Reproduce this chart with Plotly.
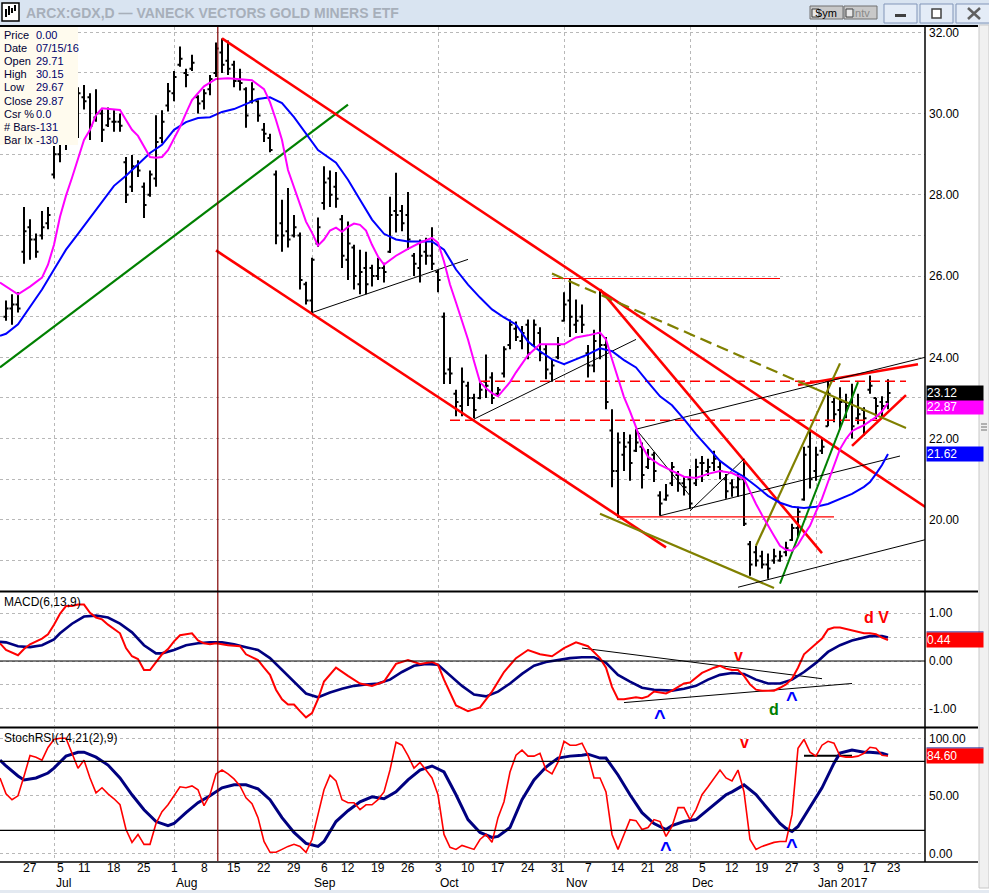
import pandas as pd
import plotly.graph_objects as go

W, H = 989, 893
FONT = "Liberation Sans, Arial, sans-serif"

# ---------------- calendar ----------------
holidays = ["2016-07-04", "2016-09-05", "2016-11-24", "2016-12-26", "2017-01-02", "2017-01-16"]
cal = [d.strftime("%Y-%m-%d") for d in pd.bdate_range("2016-06-20", "2017-01-31")]
cal = [d for d in cal if d not in holidays]
pos = {d: i - 1 for i, d in enumerate(cal)}
dates = [d for d in cal if "2016-06-21" <= d <= "2017-01-20"]

# ---------------- price bars ----------------
open_ = [25.0, 25.2, 25.3, 26.6, 27.2, 26.9, 27.0, 27.3, 28.5, 29.0, 29.4, 30.1, 30.0, 30.4, 30.4, 29.9, 30.0, 29.71,
         29.8, 29.8, 28.8, 28.2, 28.7, 28.2, 28.0, 28.4, 29.4, 30.2, 30.5, 31.2, 31.0, 31.1, 30.4, 30.3, 30.6, 31.0,
         31.5, 31.3, 31.2, 30.8, 30.6, 30.3, 30.3, 29.6, 29.4, 28.5, 27.3, 27.1, 27.0, 27.0, 25.8, 25.4, 26.8, 27.8,
         28.4, 28.2, 27.4, 26.4, 26.7, 25.8, 26.2, 26.2, 26.0, 26.2, 26.6, 27.6, 27.6, 27.5, 26.5, 26.2, 26.6, 26.5,
         26.1, 25.0, 23.7, 23.1, 22.8, 23.3, 23.0, 23.0, 23.4, 23.5, 23.1, 23.6, 24.3, 24.7, 24.4, 24.8, 24.3, 24.6,
         24.2, 23.6, 24.0, 24.9, 25.4, 24.8, 25.0, 24.1, 23.8, 24.6, 24.3, 22.2, 21.2, 21.6, 21.9, 21.7, 21.8, 21.3,
         21.6, 20.6, 20.5, 20.9, 21.1, 20.9, 21.0, 20.9, 21.4, 21.2, 21.4, 21.3, 21.0, 20.9, 20.8, 21.0, 19.4, 19.2,
         19.1, 18.9, 19.0, 19.0, 19.2, 19.5, 19.8, 20.5, 21.8, 21.2, 21.7, 22.3, 22.9, 22.7, 22.9, 22.9, 22.5, 22.7,
         23.2, 23.0, 22.9, 22.9]
high = [25.4, 25.55, 25.6, 27.7, 27.4, 27.05, 27.6, 27.7, 29.2, 29.5, 30.3, 30.5, 30.65, 30.7, 30.5, 30.6, 30.1, 30.15,
        30.08, 30.0, 28.93, 28.98, 28.85, 28.3, 28.6, 29.96, 30.08, 30.75, 31.05, 31.65, 31.1, 31.45, 30.45, 30.6,
        30.95, 31.75, 31.85, 31.8, 31.3, 31.1, 30.65, 30.77, 30.33, 29.77, 29.5, 28.6, 27.88, 28.17, 27.5, 27.07,
        25.86, 26.45, 27.44, 28.7, 28.6, 28.56, 27.5, 27.34, 26.77, 26.65, 26.6, 26.28, 26.45, 26.33, 27.95, 28.54,
        27.75, 28.07, 26.57, 26.9, 26.94, 27.2, 26.15, 25.1, 24.0, 23.2, 23.75, 23.4, 23.1, 23.4, 24.07, 23.63, 23.27,
        24.27, 24.93, 24.88, 24.77, 24.93, 24.93, 24.74, 24.3, 23.95, 24.5, 25.6, 25.95, 25.42, 25.3, 24.3, 24.68,
        25.67, 24.5, 22.72, 22.15, 22.16, 22.1, 22.23, 21.9, 21.74, 21.67, 20.7, 20.88, 21.42, 21.2, 21.08, 21.25,
        21.5, 21.57, 21.5, 21.7, 21.45, 21.13, 21.0, 21.13, 21.5, 19.48, 19.36, 19.24, 19.17, 19.29, 19.24, 19.46,
        19.9, 20.32, 21.8, 22.23, 21.8, 22.0, 23.4, 23.0, 23.26, 23.1, 23.35, 23.1, 22.77, 23.55, 23.0, 23.04, 23.46]
low = [24.9, 24.8, 25.1, 26.3, 26.4, 26.45, 26.9, 27.15, 28.4, 28.8, 29.1, 29.8, 29.4, 30.1, 29.35, 29.8, 29.3, 29.67,
       29.55, 29.55, 27.8, 28.07, 28.44, 27.43, 27.95, 28.2, 29.27, 30.05, 30.3, 31.15, 30.65, 31.05, 30.0, 30.1,
       30.45, 30.9, 31.0, 30.95, 30.65, 30.57, 29.65, 30.25, 29.8, 29.3, 29.05, 26.78, 26.6, 26.7, 26.95, 25.67,
       25.3, 25.1, 26.72, 27.63, 27.7, 27.68, 26.2, 25.9, 25.67, 25.55, 25.55, 25.74, 25.9, 25.84, 26.57, 27.07,
       27.1, 26.65, 26.0, 25.84, 26.28, 26.15, 25.6, 23.34, 23.34, 22.55, 22.55, 22.8, 22.5, 22.97, 23.0, 22.85,
       23.05, 23.5, 24.2, 24.4, 24.2, 23.95, 24.27, 23.9, 23.46, 23.4, 23.95, 24.88, 24.5, 24.6, 24.6, 23.5, 23.63,
       23.95, 22.72, 20.8, 20.05, 21.2, 20.96, 21.67, 20.77, 21.25, 20.93, 20.1, 20.47, 20.83, 20.69, 20.6, 20.27,
       20.83, 20.93, 21.08, 21.2, 21.0, 20.52, 20.57, 20.57, 19.85, 18.62, 18.85, 18.8, 18.55, 18.92, 18.97, 19.1,
       19.48, 19.58, 20.47, 20.77, 20.96, 21.62, 22.3, 22.4, 22.23, 22.5, 22.0, 22.35, 22.07, 23.1, 22.48, 22.48, 22.72]
close = [25.2, 25.3, 25.2, 27.1, 26.9, 26.6, 27.2, 27.5, 29.0, 29.3, 30.0, 30.1, 30.5, 30.3, 29.7, 30.0, 29.6, 29.87,
         29.8, 29.7, 28.0, 28.7, 28.6, 27.75, 28.5, 29.3, 29.8, 30.55, 30.9, 31.35, 30.95, 31.25, 30.25, 30.5, 30.85,
         31.6, 31.2, 31.1, 30.8, 30.75, 29.95, 30.6, 29.95, 29.5, 29.1, 27.0, 27.0, 26.9, 27.2, 25.9, 25.4, 26.4,
         27.2, 28.3, 28.0, 27.9, 26.5, 26.8, 26.0, 26.1, 25.8, 26.0, 26.2, 26.1, 27.5, 27.5, 27.3, 26.9, 26.3, 26.5,
         26.5, 26.3, 25.9, 23.6, 23.6, 22.9, 23.4, 23.0, 22.7, 23.2, 23.3, 23.0, 23.2, 24.2, 24.8, 24.5, 24.6, 24.1,
         24.8, 24.1, 23.7, 23.8, 24.3, 25.3, 25.0, 24.9, 24.8, 23.8, 24.4, 24.3, 22.9, 21.2, 21.9, 21.8, 21.4, 21.9,
         21.1, 21.5, 21.2, 20.4, 20.6, 21.3, 20.9, 20.8, 20.4, 21.3, 21.4, 21.3, 21.5, 21.2, 20.7, 20.8, 21.0, 19.9,
         18.9, 19.0, 18.9, 18.8, 19.1, 19.1, 19.3, 19.8, 20.2, 21.6, 21.0, 21.6, 21.8, 23.1, 22.6, 22.9, 22.8, 22.3,
         22.6, 22.5, 23.3, 22.8, 22.8, 23.12]

# ---------------- moving averages ----------------
ma_fast_dates = ["2016-06-20", "2016-06-21", "2016-06-23", "2016-06-27", "2016-06-29", "2016-06-30", "2016-07-01",
                 "2016-07-05",
                 "2016-07-06", "2016-07-07", "2016-07-08", "2016-07-11", "2016-07-12", "2016-07-13", "2016-07-14",
                 "2016-07-18", "2016-07-19", "2016-07-20", "2016-07-21", "2016-07-22", "2016-07-25", "2016-07-26",
                 "2016-07-27", "2016-07-28", "2016-07-29", "2016-08-01", "2016-08-02", "2016-08-03", "2016-08-04",
                 "2016-08-08", "2016-08-10", "2016-08-12", "2016-08-16", "2016-08-18", "2016-08-22", "2016-08-23",
                 "2016-08-24", "2016-08-25", "2016-08-26", "2016-08-29", "2016-08-30", "2016-08-31", "2016-09-01",
                 "2016-09-02", "2016-09-06", "2016-09-07", "2016-09-08", "2016-09-09", "2016-09-12", "2016-09-13",
                 "2016-09-14", "2016-09-15", "2016-09-16", "2016-09-19", "2016-09-20", "2016-09-21", "2016-09-22",
                 "2016-09-26", "2016-09-28", "2016-09-30", "2016-10-03", "2016-10-04", "2016-10-05", "2016-10-06",
                 "2016-10-07", "2016-10-10", "2016-10-11", "2016-10-12", "2016-10-13", "2016-10-14", "2016-10-17",
                 "2016-10-18", "2016-10-19", "2016-10-20", "2016-10-21", "2016-10-24", "2016-10-26", "2016-10-28",
                 "2016-11-01", "2016-11-03", "2016-11-07", "2016-11-09", "2016-11-10", "2016-11-11", "2016-11-14",
                 "2016-11-15", "2016-11-16", "2016-11-17", "2016-11-18", "2016-11-21", "2016-11-23", "2016-11-28",
                 "2016-11-30", "2016-12-02", "2016-12-06", "2016-12-08", "2016-12-12", "2016-12-14", "2016-12-15",
                 "2016-12-16", "2016-12-19", "2016-12-20", "2016-12-21", "2016-12-22", "2016-12-23", "2016-12-27",
                 "2016-12-28", "2016-12-29", "2016-12-30", "2017-01-03", "2017-01-04", "2017-01-05", "2017-01-06",
                 "2017-01-09", "2017-01-10", "2017-01-11", "2017-01-12", "2017-01-13", "2017-01-17", "2017-01-18",
                 "2017-01-19", "2017-01-20"]
ma_fast = [25.84, 25.74, 25.55, 25.74, 25.96, 26.28, 26.77, 27.46, 27.98, 28.42, 28.91, 29.35, 29.6, 29.96, 30.13,
           30.11,
           30.09, 29.84, 29.6, 29.45, 29.18, 28.93, 28.91, 28.93, 29.1, 29.37, 29.67, 30.01, 30.33, 30.67, 30.85,
           30.87, 30.85, 30.82, 30.6, 30.28, 29.84, 29.35, 28.61, 28.17, 27.75, 27.34, 27.07, 26.75, 26.9, 27.12,
           27.19, 27.09, 27.21, 27.29, 27.26, 27.12, 26.77, 26.48, 26.28, 26.38, 26.5, 26.67, 26.82, 26.94, 26.82,
           26.36, 25.79, 25.35, 24.88, 24.44, 23.9, 23.39, 23.24, 23.12, 23.04, 23.21, 23.39, 23.63, 23.85, 24.05,
           24.32, 24.32, 24.32, 24.49, 24.54, 24.61, 24.44, 23.95, 23.46, 23.02, 22.67, 22.28, 21.82, 21.55, 21.35,
           21.2, 21.06, 21.03, 21.13, 21.2, 21.15, 21.01, 20.69, 20.39, 20.12, 19.85, 19.61, 19.36, 19.26, 19.24,
           19.39, 19.63, 19.85, 20.2, 20.52, 20.93, 21.35, 21.74, 21.99, 22.18, 22.26, 22.33, 22.43, 22.53, 22.67,
           22.87]

ma_slow_dates = ["2016-06-20", "2016-06-21", "2016-06-23", "2016-06-27", "2016-06-29", "2016-07-01", "2016-07-06",
                 "2016-07-08",
                 "2016-07-12", "2016-07-14", "2016-07-18", "2016-07-20", "2016-07-22", "2016-07-26", "2016-07-28",
                 "2016-08-01", "2016-08-03", "2016-08-05", "2016-08-09", "2016-08-11", "2016-08-15", "2016-08-17",
                 "2016-08-19", "2016-08-23", "2016-08-25", "2016-08-29", "2016-08-31", "2016-09-02", "2016-09-08",
                 "2016-09-12", "2016-09-14", "2016-09-16", "2016-09-20", "2016-09-22", "2016-09-26", "2016-09-28",
                 "2016-09-30", "2016-10-04", "2016-10-06", "2016-10-10", "2016-10-12", "2016-10-14", "2016-10-18",
                 "2016-10-20", "2016-10-24", "2016-10-26", "2016-10-28", "2016-11-01", "2016-11-03", "2016-11-07",
                 "2016-11-09", "2016-11-11", "2016-11-15", "2016-11-17", "2016-11-21", "2016-11-23", "2016-11-28",
                 "2016-11-30", "2016-12-02", "2016-12-06", "2016-12-08", "2016-12-12", "2016-12-14", "2016-12-16",
                 "2016-12-20", "2016-12-22", "2016-12-27", "2016-12-29", "2017-01-03", "2017-01-05", "2017-01-09",
                 "2017-01-11", "2017-01-13", "2017-01-17", "2017-01-18", "2017-01-19", "2017-01-20"]
ma_slow = [24.53, 24.58, 24.81, 25.25, 25.67, 26.16, 26.65, 27.04, 27.44, 27.83, 28.22, 28.47, 28.74, 29.03, 29.23,
           29.6,
           29.79, 29.89, 29.91, 30.04, 30.11, 30.23, 30.36, 30.4, 30.26, 29.91, 29.52, 29.1, 28.79, 28.37, 27.88,
           27.39, 27.04, 26.9, 26.85, 26.85, 26.85, 26.65, 26.16, 25.79, 25.47, 25.18, 24.98, 24.81, 24.39, 24.15,
           23.95, 23.83, 23.95, 24.07, 24.22, 24.15, 23.93, 23.75, 23.39, 23.04, 22.82, 22.48, 22.11, 21.79, 21.45,
           21.23, 21.06, 20.83, 20.59, 20.42, 20.32, 20.29, 20.32, 20.39, 20.52, 20.64, 20.81, 20.93, 21.13, 21.35,
           21.62]

# ---------------- MACD(6,13,9) ----------------
macd_dates = ["2016-06-20", "2016-06-21", "2016-06-23", "2016-06-24", "2016-06-27", "2016-06-29", "2016-06-30",
              "2016-07-01",
              "2016-07-05", "2016-07-06", "2016-07-07", "2016-07-08", "2016-07-11", "2016-07-12", "2016-07-13",
              "2016-07-14", "2016-07-15", "2016-07-18", "2016-07-19", "2016-07-20", "2016-07-21", "2016-07-22",
              "2016-07-25", "2016-07-26", "2016-07-27", "2016-07-28", "2016-07-29", "2016-08-01", "2016-08-02",
              "2016-08-04", "2016-08-05", "2016-08-08", "2016-08-09", "2016-08-10", "2016-08-12", "2016-08-16",
              "2016-08-17", "2016-08-19", "2016-08-22", "2016-08-23", "2016-08-24", "2016-08-25", "2016-08-26",
              "2016-08-29", "2016-08-30", "2016-08-31", "2016-09-01", "2016-09-02", "2016-09-06", "2016-09-07",
              "2016-09-08", "2016-09-12", "2016-09-14", "2016-09-16", "2016-09-20", "2016-09-22", "2016-09-26",
              "2016-09-28", "2016-09-30", "2016-10-03", "2016-10-04", "2016-10-06", "2016-10-10", "2016-10-12",
              "2016-10-14", "2016-10-18", "2016-10-20", "2016-10-24", "2016-10-26", "2016-10-28", "2016-11-01",
              "2016-11-03", "2016-11-07", "2016-11-09", "2016-11-10", "2016-11-11", "2016-11-14", "2016-11-15",
              "2016-11-17", "2016-11-18", "2016-11-21", "2016-11-22", "2016-11-25", "2016-11-28", "2016-11-30",
              "2016-12-01", "2016-12-02", "2016-12-05", "2016-12-07", "2016-12-08", "2016-12-09", "2016-12-12",
              "2016-12-13", "2016-12-14", "2016-12-15", "2016-12-16", "2016-12-19", "2016-12-21", "2016-12-22",
              "2016-12-23", "2016-12-27", "2016-12-28", "2016-12-29", "2016-12-30", "2017-01-03", "2017-01-04",
              "2017-01-05", "2017-01-06", "2017-01-09", "2017-01-11", "2017-01-13", "2017-01-17", "2017-01-18",
              "2017-01-19", "2017-01-20"]
macd = [0.37, 0.23, 0.12, 0.25, 0.35, 0.47, 0.56, 0.76, 0.99, 1.15, 1.15, 1.18, 1.18, 1.01, 0.91, 0.87, 0.76, 0.66,
        0.58,
        0.27, 0.10, 0.04, -0.19, -0.19, -0.02, 0.14, 0.25, 0.41, 0.54, 0.58, 0.43, 0.37, 0.35, 0.37, 0.33, 0.31, 0.14,
        0.02, -0.14, -0.29, -0.60, -0.80, -0.91, -0.91, -1.05, -1.18, -1.09, -0.80, -0.43, -0.29, -0.14, -0.31,
        -0.47, -0.52, -0.43, -0.06, 0.02, -0.06, -0.02, -0.08, -0.39, -0.93, -1.05, -0.97, -0.64, -0.23, 0.06, 0.23,
        0.14, 0.10, 0.27, 0.39, 0.31, 0.06, -0.14, -0.54, -0.80, -0.80, -0.76, -0.78, -0.74, -0.64, -0.68, -0.62,
        -0.47, -0.45, -0.35, -0.25, -0.14, -0.10, -0.16, -0.19, -0.19, -0.31, -0.49, -0.60, -0.62, -0.62, -0.56,
        -0.49, -0.37, -0.14, 0.14, 0.25, 0.35, 0.47, 0.66, 0.70, 0.70, 0.64, 0.58, 0.58, 0.56, 0.49, 0.44]
signal_dates = ["2016-06-20", "2016-06-21", "2016-06-23", "2016-06-27", "2016-06-29", "2016-07-01", "2016-07-05",
                "2016-07-07",
                "2016-07-11", "2016-07-13", "2016-07-15", "2016-07-19", "2016-07-21", "2016-07-25", "2016-07-27",
                "2016-07-28", "2016-08-01", "2016-08-03", "2016-08-05", "2016-08-09", "2016-08-11", "2016-08-15",
                "2016-08-17", "2016-08-19", "2016-08-23", "2016-08-25", "2016-08-29", "2016-08-31", "2016-09-02",
                "2016-09-07", "2016-09-09", "2016-09-13", "2016-09-15", "2016-09-19", "2016-09-21", "2016-09-23",
                "2016-09-27", "2016-09-29", "2016-10-03", "2016-10-05", "2016-10-07", "2016-10-11", "2016-10-13",
                "2016-10-17", "2016-10-19", "2016-10-21", "2016-10-25", "2016-10-27", "2016-10-31", "2016-11-02",
                "2016-11-04", "2016-11-08", "2016-11-10", "2016-11-14", "2016-11-16", "2016-11-18", "2016-11-22",
                "2016-11-28", "2016-11-30", "2016-12-02", "2016-12-06", "2016-12-08", "2016-12-12", "2016-12-14",
                "2016-12-16", "2016-12-20", "2016-12-22", "2016-12-27", "2016-12-29", "2017-01-03", "2017-01-05",
                "2017-01-09", "2017-01-11", "2017-01-13", "2017-01-17", "2017-01-19", "2017-01-20"]
signal = [0.40, 0.39, 0.31, 0.29, 0.33, 0.45, 0.58, 0.78, 0.93, 0.95, 0.91, 0.78, 0.60, 0.33, 0.16, 0.16, 0.23, 0.33,
          0.37,
          0.39, 0.39, 0.35, 0.29, 0.23, 0.06, -0.19, -0.45, -0.68, -0.76, -0.66, -0.58, -0.52, -0.49, -0.47, -0.39,
          -0.23, -0.10, -0.06, -0.08, -0.29, -0.52, -0.70, -0.74, -0.64, -0.47, -0.27, -0.10, -0.02, 0.02, 0.06, 0.08,
          0.08, -0.04, -0.29, -0.43, -0.56, -0.60, -0.62, -0.58, -0.52, -0.39, -0.29, -0.25, -0.27, -0.39, -0.47,
          -0.47, -0.39, -0.23, -0.04, 0.19, 0.33, 0.43, 0.49, 0.52, 0.52, 0.49]

# ---------------- StochRSI(14,21(2),9) ----------------
stoch_dates = ["2016-06-20"] + dates
stoch_k = [65.5, 51.7, 46.6, 50.0, 67.0, 85.0, 83.6, 81.0, 92.0, 99.0, 100.0, 100.0, 87.0, 74.0, 81.0, 65.5, 52.6,
           57.0,
           51.7, 47.4, 42.2, 20.7, 9.5, 16.4, 7.8, 7.8, 25.9, 36.2, 42.2, 50.0, 57.8, 57.0, 58.6, 55.2, 41.4, 50.9,
           69.0, 72.4, 69.0, 64.7, 58.6, 48.3, 43.1, 31.0, 10.3, 0.9, 0.9, 3.4, 6.0, 7.8, 6.0, 0.9, 12.0, 33.6, 55.2,
           68.0, 63.0, 46.6, 44.0, 44.0, 38.0, 42.2, 42.2, 46.6, 53.4, 72.4, 96.6, 94.0, 85.0, 74.0, 79.0, 72.4, 65.5,
           50.9, 16.4, 5.2, 3.4, 6.9, 5.2, 3.4, 12.0, 16.4, 9.5, 31.0, 44.8, 70.7, 85.3, 89.7, 84.5, 84.5, 87.0, 72.4,
           69.0, 79.3, 97.4, 94.0, 94.0, 95.7, 85.3, 65.5, 65.5, 53.4, 16.4, 3.4, 16.4, 29.3, 28.4, 20.7, 22.4, 29.3,
           27.6, 14.7, 23.3, 39.7, 39.7, 29.3, 38.0, 50.9, 57.8, 65.5, 72.4, 65.5, 63.0, 72.4, 53.4, 12.0, 3.4, 6.0,
           7.8, 9.5, 10.3, 10.3, 33.6, 91.4, 99.0, 88.0, 84.5, 94.0, 97.4, 95.7, 84.5, 83.6, 83.6, 84.5, 87.0, 92.2,
           91.4, 85.3, 84.6]
stoch_d_dates = ["2016-06-20", "2016-06-21", "2016-06-23", "2016-06-24", "2016-06-28", "2016-06-30", "2016-07-01",
                 "2016-07-06",
                 "2016-07-08", "2016-07-11", "2016-07-13", "2016-07-15", "2016-07-19", "2016-07-21", "2016-07-25",
                 "2016-07-27", "2016-07-29", "2016-08-01", "2016-08-03", "2016-08-05", "2016-08-09", "2016-08-11",
                 "2016-08-15", "2016-08-17", "2016-08-19", "2016-08-23", "2016-08-25", "2016-08-29", "2016-08-31",
                 "2016-09-02", "2016-09-06", "2016-09-08", "2016-09-12", "2016-09-14", "2016-09-16", "2016-09-20",
                 "2016-09-22", "2016-09-26", "2016-09-28", "2016-09-30", "2016-10-04", "2016-10-06", "2016-10-10",
                 "2016-10-12", "2016-10-14", "2016-10-17", "2016-10-19", "2016-10-21", "2016-10-25", "2016-10-27",
                 "2016-10-31", "2016-11-02", "2016-11-04", "2016-11-07", "2016-11-09", "2016-11-10", "2016-11-14",
                 "2016-11-16", "2016-11-18", "2016-11-22", "2016-11-25", "2016-11-28", "2016-11-30", "2016-12-02",
                 "2016-12-05", "2016-12-07", "2016-12-09", "2016-12-12", "2016-12-14", "2016-12-16", "2016-12-20",
                 "2016-12-22", "2016-12-23", "2016-12-27", "2016-12-28", "2016-12-30", "2017-01-04", "2017-01-06",
                 "2017-01-09", "2017-01-11", "2017-01-13", "2017-01-17", "2017-01-19", "2017-01-20"]
stoch_d = [81.0, 75.9, 67.2, 63.8, 65.5, 69.8, 74.1, 84.5, 87.9, 87.9, 83.6, 76.7, 65.5, 50.9, 37.9, 27.6, 24.1, 25.9,
           35.3,
           44.0, 50.0, 56.9, 59.5, 59.5, 56.0, 46.6, 31.0, 18.1, 8.6, 6.0, 10.3, 27.6, 37.0, 44.8, 49.1, 47.4, 53.4,
           63.8, 72.4, 75.9, 70.7, 50.9, 29.3, 18.1, 13.8, 14.7, 22.4, 46.6, 63.8, 75.0, 82.8, 84.5, 85.3, 86.2, 82.8,
           82.8, 68.1, 50.9, 35.3, 25.9, 20.7, 24.1, 27.6, 29.3, 33.6, 42.2, 50.9, 53.4, 59.5, 51.0, 38.0, 25.9, 21.6,
           19.0, 23.3, 39.7, 56.9, 78.4, 87.1, 89.7, 87.9, 87.9, 87.1, 85.3]

# ---------------- drawn trend lines (start date, start price, end date, end price) ----------------
tl_start_date = ["2016-06-20", "2016-08-11", "2016-08-10", "2016-11-09", "2017-01-11", "2016-12-28",
                 "2016-10-12", "2016-10-05", "2016-10-28", "2016-11-14",
                 "2016-10-28", "2016-12-28", "2016-11-09", "2016-12-16", "2016-12-22",
                 "2016-09-01", "2016-10-11", "2016-11-17", "2016-11-23", "2016-12-13", "2016-11-17", "2016-12-01"]
tl_start_price = [23.75, 31.85, 26.63, 25.67, 21.82, 23.32,
                  23.41, 22.45, 25.94, 20.07,
                  26.06, 23.41, 20.15, 19.36, 18.43,
                  25.10, 22.48, 22.23, 20.10, 18.34, 22.23, 20.22]
tl_end_date = ["2016-09-12", "2017-01-31", "2016-11-25", "2017-01-04", "2017-01-25", "2017-01-27",
               "2017-01-25", "2017-01-19", "2016-12-22", "2017-01-06",
               "2016-12-28", "2017-01-25", "2016-12-21", "2017-01-09", "2017-01-12",
               "2016-10-10", "2016-11-17", "2017-01-31", "2017-01-24", "2017-01-31", "2016-12-01", "2016-12-14"]
tl_end_price = [30.22, 20.24, 19.32, 19.18, 23.07, 23.83,
                23.41, 22.45, 25.94, 20.07,
                23.41, 22.26, 18.32, 23.85, 23.39,
                26.41, 24.44, 24.03, 21.57, 19.54, 20.59, 21.50]
tl_style = ([("#008000", 2.2, "solid")] + [("#ff0000", 2.6, "solid")] * 5 +
            [("#ff0000", 1.4, "10px,5px")] * 2 + [("#ff0000", 1.2, "solid")] * 2 +
            [("#808000", 2.2, "12px,6px"), ("#808000", 2.0, "solid"), ("#808000", 2.2, "solid"),
             ("#808000", 2.2, "solid"), ("#008000", 2.0, "solid")] +
            [("#000000", 1.0, "solid")] * 7)

macd_tl_start = ["2016-11-04", "2016-11-15"]
macd_tl_start_val = [0.27, -0.87]
macd_tl_end = ["2017-01-04", "2017-01-11"]
macd_tl_end_val = [-0.37, -0.47]
stoch_tl = ["2016-12-29", "2017-01-11"]
stoch_tl_val = [84.9, 84.9]

# ---------------- labels ----------------
tick_dates = ["2016-06-27", "2016-07-05", "2016-07-11", "2016-07-18", "2016-07-25", "2016-08-01", "2016-08-08",
              "2016-08-15", "2016-08-22", "2016-08-29", "2016-09-06", "2016-09-12", "2016-09-19", "2016-09-26",
              "2016-10-03", "2016-10-10", "2016-10-17", "2016-10-24", "2016-10-31", "2016-11-07", "2016-11-14",
              "2016-11-21", "2016-11-28", "2016-12-05", "2016-12-12", "2016-12-19", "2016-12-27", "2017-01-03",
              "2017-01-09", "2017-01-17", "2017-01-23"]
tick_text = ["27", "5", "11", "18", "25", "1", "8", "15", "22", "29", "6", "12", "19", "26", "3", "10", "17", "24",
             "31", "7", "14", "21", "28", "5", "12", "19", "27", "3", "9", "17", "23"]
month_dates = ["2016-07-01", "2016-08-01", "2016-09-01", "2016-10-03", "2016-11-01", "2016-12-01", "2017-01-03"]
month_text = ["Jul", "Aug", "Sep", "Oct", "Nov", "Dec", "Jan 2017"]
info_labels = ["Price", "Date", "Open", "High", "Low", "Close", "Csr %", "# Bars", "Bar Ix"]
info_values = ["0.00", "07/15/16", "29.71", "30.15", "29.67", "29.87", "0.0", "-131", "-130"]
cursor_date = "2016-08-10"

# signals: (pane, date, value, text, colour)
sig_pane = ["y2", "y2", "y2", "y2", "y2", "y3", "y3", "y3"]
sig_date = ["2016-12-13", "2016-11-23", "2016-12-21", "2016-12-27", "2017-01-18", "2016-12-14", "2016-11-25", "2016-12-27"]
sig_val = [0.12, -1.18, -1.02, -0.80, 0.92, 96.0, 4.0, 6.0]
sig_text = ["v", "^", "d", "^", "d V", "v", "^", "^"]
sig_color = ["#ff0000", "#0000ff", "#008000", "#0000ff", "#ff0000", "#ff0000", "#0000ff", "#0000ff"]

# ================= figure =================
def px(x):
    return x / W


def py(y):
    return 1 - y / H


X_RIGHT = 925
xr = [-1, (X_RIGHT - 6) / 6.0]
dom_x = [0, px(X_RIGHT)]

fig = go.Figure()
bx = [pos[d] for d in dates]
fig.add_trace(go.Ohlc(x=bx, open=open_, high=high, low=low, close=close, xaxis="x", yaxis="y",
                      increasing=dict(line=dict(color="black", width=2)),
                      decreasing=dict(line=dict(color="black", width=2)),
                      tickwidth=0.42, hoverinfo="skip", showlegend=False))

for i in range(len(tl_start_date)):
    c, w, dsh = tl_style[i]
    fig.add_trace(go.Scatter(x=[pos[tl_start_date[i]], pos[tl_end_date[i]]],
                             y=[tl_start_price[i], tl_end_price[i]], mode="lines",
                             line=dict(color=c, width=w, dash=dsh), xaxis="x", yaxis="y",
                             hoverinfo="skip", showlegend=False))

fig.add_trace(go.Scatter(x=[pos[d] for d in ma_slow_dates], y=ma_slow, mode="lines",
                         line=dict(color="#0000ff", width=2), xaxis="x", yaxis="y", hoverinfo="skip",
                         showlegend=False))
fig.add_trace(go.Scatter(x=[pos[d] for d in ma_fast_dates], y=ma_fast, mode="lines",
                         line=dict(color="#ff00ff", width=2), xaxis="x", yaxis="y", hoverinfo="skip",
                         showlegend=False))

# MACD pane
for i in range(len(macd_tl_start)):
    fig.add_trace(go.Scatter(x=[pos[macd_tl_start[i]], pos[macd_tl_end[i]]],
                             y=[macd_tl_start_val[i], macd_tl_end_val[i]], mode="lines",
                             line=dict(color="black", width=1), xaxis="x2", yaxis="y2",
                             hoverinfo="skip", showlegend=False))
fig.add_trace(go.Scatter(x=[pos[d] for d in signal_dates], y=signal, mode="lines",
                         line=dict(color="#000080", width=2.6), xaxis="x2", yaxis="y2",
                         hoverinfo="skip", showlegend=False))
fig.add_trace(go.Scatter(x=[pos[d] for d in macd_dates], y=macd, mode="lines",
                         line=dict(color="#ff0000", width=2), xaxis="x2", yaxis="y2",
                         hoverinfo="skip", showlegend=False))

# Stoch pane
fig.add_trace(go.Scatter(x=[pos[d] for d in stoch_tl], y=stoch_tl_val, mode="lines",
                         line=dict(color="black", width=2), xaxis="x3", yaxis="y3",
                         hoverinfo="skip", showlegend=False))
fig.add_trace(go.Scatter(x=[pos[d] for d in stoch_d_dates], y=stoch_d, mode="lines",
                         line=dict(color="#000080", width=3), xaxis="x3", yaxis="y3",
                         hoverinfo="skip", showlegend=False))
fig.add_trace(go.Scatter(x=[pos[d] for d in stoch_dates], y=stoch_k, mode="lines",
                         line=dict(color="#ff0000", width=1.6), xaxis="x3", yaxis="y3",
                         hoverinfo="skip", showlegend=False))

grid_col = "#b8b8b8"
month_pos = [pos[d] for d in month_dates]
xcommon = dict(range=xr, domain=dom_x, showticklabels=False, ticks="", tickmode="array", tickvals=month_pos,
               showgrid=True, gridcolor=grid_col, griddash="dot", gridwidth=1, zeroline=False, showline=False,
               fixedrange=True)
ycommon = dict(side="right", showgrid=True, gridcolor=grid_col, griddash="dot", gridwidth=1, zeroline=False,
               showline=False, ticks="", tickfont=dict(size=12, color="black", family=FONT), fixedrange=True,
               ticklabelstandoff=3)

# pixel geometry of panes
MAIN_T, MAIN_B = 27, 590
MACD_T, MACD_B = 593, 726
ST_T, ST_B = 729, 861
P_TOP_Y, P_PER = 32.3, 40.625      # price 32 at y=32.3, 40.625 px / dollar
M_ZERO, M_PER = 661.0, 47.8
S_ZERO, S_PER = 853.3, 1.15

main_range = [32 - (MAIN_B - P_TOP_Y) / P_PER, 32 + (P_TOP_Y - MAIN_T) / P_PER]
macd_range = [(M_ZERO - MACD_B) / M_PER, (M_ZERO - MACD_T) / M_PER]
st_range = [(S_ZERO - ST_B) / S_PER, (S_ZERO - ST_T) / S_PER]

fig.update_layout(
    width=W, height=H, margin=dict(l=0, r=0, t=0, b=0), paper_bgcolor="white", plot_bgcolor="white",
    font=dict(family=FONT, size=12, color="black"), showlegend=False, hovermode=False,
    xaxis=dict(anchor="y", rangeslider=dict(visible=False), **xcommon),
    xaxis2=dict(anchor="y2", **xcommon),
    xaxis3=dict(anchor="y3", **xcommon),
    yaxis=dict(anchor="x", domain=[py(MAIN_B), py(MAIN_T)], range=main_range, tickmode="linear", tick0=0,
               dtick=2, tickformat=".2f", minor=dict(dtick=1, tick0=0, showgrid=True, gridcolor=grid_col,
                                                    griddash="dot"), **ycommon),
    yaxis2=dict(anchor="x2", domain=[py(MACD_B), py(MACD_T)], range=macd_range, tickmode="array",
                tickvals=[-1, 0, 1], ticktext=["-1.00", "0.00", "1.00"],
                minor=dict(tickvals=[-0.5, 0.5], showgrid=True, gridcolor=grid_col, griddash="dot"), **ycommon),
    yaxis3=dict(anchor="x3", domain=[py(ST_B), py(ST_T)], range=st_range, tickmode="array",
                tickvals=[0, 50, 100], ticktext=["0.00", "50.00", "100.00"], **ycommon),
)

shapes = []
# horizontal reference lines in indicator panes
shapes.append(dict(type="line", xref="x2", yref="y2", x0=xr[0], x1=xr[1], y0=0, y1=0,
                   line=dict(color="black", width=1.2)))
for v in (80, 20):
    shapes.append(dict(type="line", xref="x3", yref="y3", x0=xr[0], x1=xr[1], y0=v, y1=v,
                       line=dict(color="black", width=1.2)))
# cursor line
shapes.append(dict(type="line", xref="x", yref="paper", x0=pos[cursor_date] + 0.3, x1=pos[cursor_date] + 0.3,
                   y0=py(ST_B), y1=py(MAIN_T), line=dict(color="#800000", width=1.2)))
# info panel
shapes.append(dict(type="rect", xref="paper", yref="paper", x0=0, x1=px(78), y0=py(145), y1=py(MAIN_T),
                   fillcolor="#fffbee", line=dict(width=0), layer="above"))
# pane frames
for yy, wdt in ((26, 2), (591.5, 2.2), (727.5, 2.2), (862, 1.5)):
    shapes.append(dict(type="line", xref="paper", yref="paper", x0=0, x1=px(978), y0=py(yy), y1=py(yy),
                       line=dict(color="black", width=wdt), layer="above"))
shapes.append(dict(type="line", xref="paper", yref="paper", x0=px(X_RIGHT), x1=px(X_RIGHT), y0=py(862), y1=py(26),
                   line=dict(color="black", width=1.5), layer="above"))
# title bar
shapes.append(dict(type="rect", xref="paper", yref="paper", x0=0, x1=1, y0=py(25), y1=1,
                   fillcolor="#d9e4f1", line=dict(width=0), layer="above"))
shapes.append(dict(type="rect", xref="paper", yref="paper", x0=px(2), x1=px(19), y0=py(21), y1=py(3),
                   fillcolor="white", line=dict(color="black", width=1.5), layer="above"))
for xx0, yy0, yy1 in ((6, 17, 9), (9, 15, 6), (12, 13, 8), (15, 11, 5)):
    shapes.append(dict(type="line", xref="paper", yref="paper", x0=px(xx0), x1=px(xx0), y0=py(yy0), y1=py(yy1),
                       line=dict(color="black", width=2), layer="above"))
# Sym / Intv buttons
for xx0, xx1 in ((810, 843), (844, 877)):
    shapes.append(dict(type="rect", xref="paper", yref="paper", x0=px(xx0), x1=px(xx1), y0=py(19), y1=py(6),
                       fillcolor="#c8c8c8", line=dict(color="#707070", width=1), layer="above"))
    shapes.append(dict(type="rect", xref="paper", yref="paper", x0=px(xx0 + 2), x1=px(xx0 + 9), y0=py(17),
                       y1=py(9), fillcolor="#e8e8e8", line=dict(color="#404040", width=1), layer="above"))
# window buttons
for xx0, xx1 in ((884, 917), (920, 953), (956, 992)):
    shapes.append(dict(type="rect", xref="paper", yref="paper", x0=px(xx0), x1=px(xx1), y0=py(23), y1=py(4),
                       fillcolor="#e4ecf7", line=dict(color="#8195b8", width=1), layer="above"))
shapes.append(dict(type="rect", xref="paper", yref="paper", x0=px(895), x1=px(906), y0=py(17), y1=py(14),
                   fillcolor="#404040", line=dict(width=0), layer="above"))
shapes.append(dict(type="rect", xref="paper", yref="paper", x0=px(932), x1=px(941), y0=py(18), y1=py(9),
                   fillcolor="white", line=dict(color="#404040", width=1.5), layer="above"))
shapes.append(dict(type="line", xref="paper", yref="paper", x0=px(968), x1=px(980), y0=py(8), y1=py(19),
                   line=dict(color="#606060", width=2.5), layer="above"))
shapes.append(dict(type="line", xref="paper", yref="paper", x0=px(968), x1=px(980), y0=py(19), y1=py(8),
                   line=dict(color="#606060", width=2.5), layer="above"))
# scrollbar and status strip
shapes.append(dict(type="rect", xref="paper", yref="paper", x0=px(979), x1=1, y0=py(888), y1=py(25),
                   fillcolor="#f0f0f0", line=dict(color="#c8c8c8", width=1), layer="above"))
for yy in (424, 427, 430):
    shapes.append(dict(type="line", xref="paper", yref="paper", x0=px(981), x1=px(987), y0=py(yy), y1=py(yy),
                       line=dict(color="#707070", width=1), layer="above"))
shapes.append(dict(type="rect", xref="paper", yref="paper", x0=0, x1=1, y0=0, y1=py(890),
                   fillcolor="#e3e9f1", line=dict(width=0), layer="below"))
fig.update_layout(shapes=shapes)

ann = []
ann.append(dict(xref="paper", yref="paper", x=px(24), y=py(13), xanchor="left", yanchor="middle",
                text="<b>ARCX:GDX,D — VANECK VECTORS GOLD MINERS ETF</b>", showarrow=False,
                font=dict(size=14, color="#a7afba", family=FONT)))
ann.append(dict(xref="paper", yref="paper", x=px(826), y=py(13), xanchor="center", yanchor="middle",
                text="Sym", showarrow=False, font=dict(size=11, color="black", family=FONT)))
ann.append(dict(xref="paper", yref="paper", x=px(861), y=py(13), xanchor="center", yanchor="middle",
                text="Intv", showarrow=False, font=dict(size=11, color="#8a8a8a", family=FONT)))
for i, (lab, val) in enumerate(zip(info_labels, info_values)):
    yy = 35 + i * 13.1
    ann.append(dict(xref="paper", yref="paper", x=px(2), y=py(yy), xanchor="left", yanchor="middle",
                    text=lab, showarrow=False, font=dict(size=11, color="#000033", family=FONT)))
    ann.append(dict(xref="paper", yref="paper", x=px(34), y=py(yy), xanchor="left", yanchor="middle",
                    text=val, showarrow=False, font=dict(size=11, color="#00006a", family=FONT)))
ann.append(dict(xref="paper", yref="paper", x=px(2), y=py(602), xanchor="left", yanchor="middle",
                text="MACD(6,13,9)", showarrow=False, font=dict(size=12, color="black", family=FONT)))
ann.append(dict(xref="paper", yref="paper", x=px(2), y=py(738), xanchor="left", yanchor="middle",
                text="StochRSI(14,21(2),9)", showarrow=False, font=dict(size=12, color="black", family=FONT)))
for d, t in zip(tick_dates, tick_text):
    ann.append(dict(xref="x3", yref="paper", x=pos[d], y=py(868), xanchor="center", yanchor="middle",
                    text=t, showarrow=False, font=dict(size=12, color="black", family=FONT)))
for d, t in zip(month_dates, month_text):
    ann.append(dict(xref="x3", yref="paper", x=pos[d], y=py(883), xanchor="left", yanchor="middle",
                    text=t, showarrow=False, xshift=0, font=dict(size=12, color="black", family=FONT)))
for p_, d, v, t, c in zip(sig_pane, sig_date, sig_val, sig_text, sig_color):
    xa = "x2" if p_ == "y2" else "x3"
    ann.append(dict(xref=xa, yref=p_, x=pos[d], y=v, xanchor="center", yanchor="middle", text="<b>" + t + "</b>",
                    showarrow=False, font=dict(size=16 if t != "^" else 20, color=c, family=FONT)))


def vbox(yref, v, txt, bg, h=None):
    d = dict(xref="paper", yref=yref, x=px(X_RIGHT + 1), y=v, xanchor="left", yanchor="middle", text=txt,
             showarrow=False, bgcolor=bg, width=56, align="left", borderpad=0,
             font=dict(size=12, color="white", family=FONT))
    if h is not None:
        d["height"] = h
    return d


ann.append(vbox("y", ma_fast[-1] - 0.10, "%.2f" % ma_fast[-1], "#ff00ff"))
ann.append(vbox("y", close[-1], "%.2f" % close[-1], "#000000"))
ann.append(vbox("y", ma_slow[-1], "%.2f" % ma_slow[-1], "#0000ff"))
ann.append(vbox("y2", signal[-1] + 0.12, "", "#000080"))
ann.append(vbox("y2", macd[-1], "%.2f" % macd[-1], "#ff0000"))
ann.append(vbox("y3", stoch_d[-1] + 6, "", "#000080"))
ann.append(vbox("y3", stoch_k[-1], "%.2f" % stoch_k[-1], "#ff0000"))
fig.update_layout(annotations=ann)

fig.write_html("out.html", config={"displayModeBar": False, "staticPlot": True},
               post_script="document.body.style.margin='0px';document.body.style.padding='0px';"
                           "document.body.style.overflow='hidden';")
